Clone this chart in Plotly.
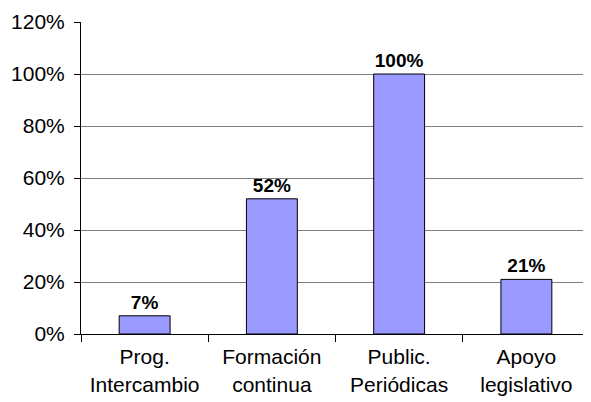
import plotly.graph_objects as go

categories = ["Prog.<br>Intercambio", "Formación<br>continua", "Public.<br>Periódicas", "Apoyo<br>legislativo"]
values = [7, 52, 100, 21]
labels = ["7%", "52%", "100%", "21%"]
y_ticks = [0, 20, 40, 60, 80, 100, 120]
y_tick_labels = ["0%", "20%", "40%", "60%", "80%", "100%", "120%"]

fig = go.Figure(go.Bar(
    x=categories, y=values,
    text=["<b>" + t + "</b>" for t in labels],
    textposition="outside",
    textfont=dict(family="Liberation Sans, Arial", size=19, color="black"),
    marker=dict(color="#9999FF", line=dict(color="black", width=1)),
    width=0.4,
    cliponaxis=False,
))

fig.update_layout(
    width=583, height=394,
    margin=dict(l=73, r=1, t=14, b=68, autoexpand=False),
    paper_bgcolor="white", plot_bgcolor="white",
    font=dict(family="Liberation Sans, Arial", size=21, color="black"),
    showlegend=False,
    bargap=0.6,
)
fig.update_xaxes(
    showline=True, linecolor="black", linewidth=1,
    ticks="outside", tickson="boundaries", ticklen=7, tickcolor="black",
    showgrid=False, automargin=False,
    tickfont=dict(size=21),
    ticklabelstandoff=4,
)
fig.update_yaxes(
    range=[0, 120], tickvals=y_ticks, ticktext=y_tick_labels,
    showline=True, linecolor="black", linewidth=1,
    ticks="outside", ticklen=6, tickcolor="black",
    showgrid=True, gridcolor="#808080", gridwidth=1,
    zeroline=False, automargin=False,
    tickfont=dict(size=21),
    ticklabelstandoff=5,
)

fig.write_html("out.html")
